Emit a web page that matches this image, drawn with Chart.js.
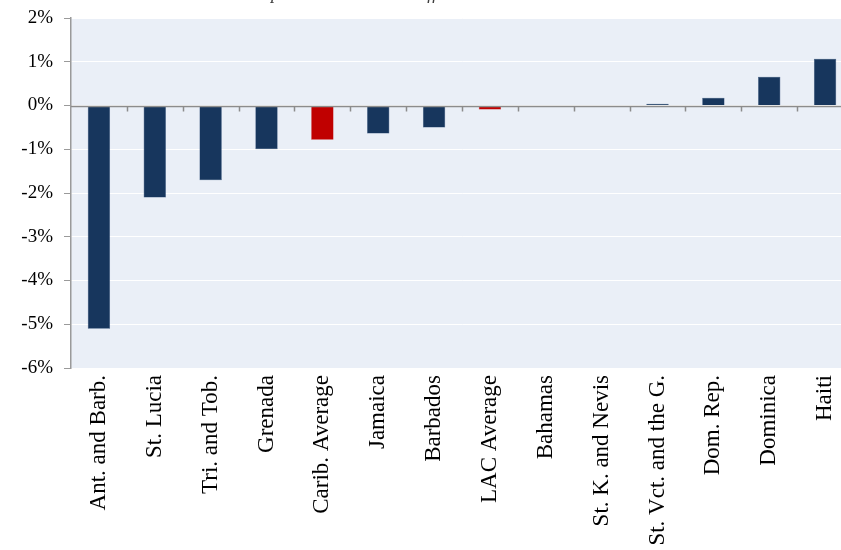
<!DOCTYPE html>
<html>
<head>
<meta charset="utf-8">
<script src="https://cdn.jsdelivr.net/npm/chart.js@4.4.1/dist/chart.umd.min.js"></script>
<style>
html,body{margin:0;padding:0;background:#fff;overflow:hidden;}
#wrap{position:relative;width:853px;height:550px;}
#title{position:absolute;top:-17px;left:0;width:841px;text-align:center;font:italic 18px "Liberation Serif",serif;color:#404040;}
</style>
</head>
<body>
<div id="wrap">
<canvas id="chart" width="853" height="550"></canvas>
<div id="title">Compared to Hurricane-Affected Years and Others</div>
</div>
<script>
// ---------------- data ----------------
const categories = [
    "Ant. and Barb.","St. Lucia","Tri. and Tob.","Grenada","Carib. Average",
    "Jamaica","Barbados","LAC Average","Bahamas","St. K. and Nevis",
    "St. Vct. and the G.","Dom. Rep.","Dominica","Haiti"
];
const values = [-5.10,-2.10,-1.71,-1.00,-0.78,-0.64,-0.50,-0.09,0,0,0.04,0.18,0.66,1.07];
const averageNames = ["Carib. Average","LAC Average"];
const yTicks = [2,1,0,-1,-2,-3,-4,-5,-6];

const NAVY = "#17365D";
const RED = "#C00000";
const SERIF = "'Liberation Serif', 'Times New Roman', serif";

// background of plot area + zero line with category ticks
const plotDecor = {
    id:"plotDecor",
    beforeDraw(chart){
        const {ctx, chartArea:a} = chart;
        ctx.save();
        ctx.fillStyle = "#EAEFF7";
        ctx.fillRect(a.left, a.top, a.right-a.left, a.bottom-a.top);
        ctx.restore();
    },
    afterDatasetsDraw(chart){
        const {ctx, chartArea:a, scales} = chart;
        const y0 = Math.round(scales.y.getPixelForValue(0)) + 0.5;
        ctx.save();
        ctx.strokeStyle = "#8c8c8c";
        ctx.lineWidth = 1.5;
        ctx.beginPath();
        ctx.moveTo(a.left, y0);
        ctx.lineTo(a.right, y0);
        const step = (a.right - a.left) / categories.length;
        for(let i=1;i<categories.length;i++){
            const x = Math.round(scales.x.getPixelForValue(i) - step/2) + 0.5;
            ctx.moveTo(x, y0);
            ctx.lineTo(x, y0 + 5);
        }
        ctx.stroke();
        ctx.restore();
    }
};

new Chart(document.getElementById("chart"),{
    type:"bar",
    plugins:[plotDecor],
    data:{
        labels:categories,
        datasets:[{
            data:values,
            backgroundColor:categories.map(c=>averageNames.includes(c)?RED:NAVY),
            borderColor:categories.map(c=>averageNames.includes(c)?RED:"#2a4a75"),
            borderWidth:0.5,
            barPercentage:0.4,
            categoryPercentage:1.0
        }]
    },
    options:{
        responsive:false,
        animation:false,
        layout:{padding:{top:18,right:0,left:0,bottom:0}},
        plugins:{legend:{display:false},tooltip:{enabled:false}},
        scales:{
            x:{
                grid:{display:false,drawTicks:false},
                border:{display:false},
                ticks:{
                    color:"#000",
                    font:{family:SERIF,size:23},
                    minRotation:90,
                    maxRotation:90,
                    autoSkip:false,
                    padding:7
                },
                afterFit(s){
                    s.height = 182;
                    s.paddingLeft = 0;
                    s.paddingRight = 0;
                }
            },
            y:{
                min:-6,
                max:2,
                afterBuildTicks(s){ s.ticks = yTicks.map(v=>({value:v})); },
                grid:{
                    color:"#ffffff",
                    lineWidth:1,
                    tickColor:"#9a9a9a",
                    tickLength:7
                },
                border:{display:true,color:"#9a9a9a",width:1.5},
                ticks:{
                    color:"#000",
                    font:{family:SERIF,size:19},
                    padding:11,
                    callback:v=>v+"%"
                },
                afterFit(s){
                    s.width = 71;
                    s.paddingTop = 0;
                    s.paddingBottom = 0;
                }
            }
        }
    }
});
</script>
</body>
</html>
